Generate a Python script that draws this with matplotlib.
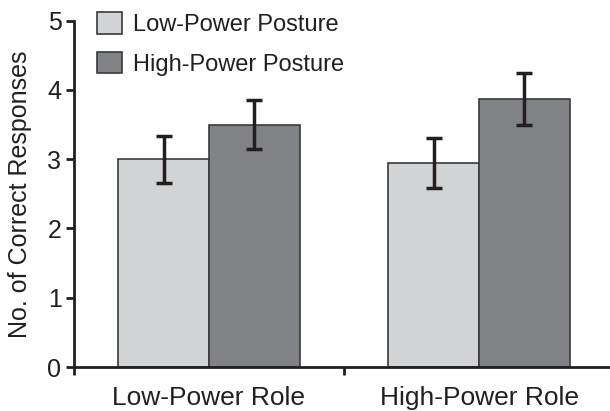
import numpy as np
import matplotlib
matplotlib.use("Agg")
import matplotlib.pyplot as plt

plt.rcParams['font.family'] = ['Liberation Sans', 'DejaVu Sans']

# data
roles = ["Low-Power Role", "High-Power Role"]
postures = ["Low-Power Posture", "High-Power Posture"]
low_posture = [3.00, 2.95]
high_posture = [3.50, 3.87]
low_err = [0.34, 0.36]
high_err = [0.35, 0.38]

light = "#d1d3d4"
dark = "#808285"
ink = "#231f20"

fig = plt.figure(figsize=(6.1, 4.11), dpi=100)
ax = fig.add_axes([74 / 610, 44 / 411, 540 / 610, 346.3 / 411])

x = np.arange(len(roles))
w = 0.337
ax.bar(x - w / 2, low_posture, w, color=light, edgecolor="#3a3a3a", linewidth=1.2,
       label=postures[0], zorder=2)
ax.bar(x + w / 2, high_posture, w, color=dark, edgecolor="#3a3a3a", linewidth=1.2,
       label=postures[1], zorder=2)
ax.errorbar(x - w / 2, low_posture, yerr=low_err, fmt="none", ecolor=ink,
            elinewidth=2.5, capsize=5.5, capthick=2.5, zorder=3)
ax.errorbar(x + w / 2, high_posture, yerr=high_err, fmt="none", ecolor=ink,
            elinewidth=2.5, capsize=5.5, capthick=2.5, zorder=3)

ax.set_xlim(-0.5, 1.5)
ax.set_ylim(0, 5)
ax.set_yticks(range(6))
ax.set_xticks([-0.5, 0.5, 1.5])
ax.set_xticklabels([])
ax.set_xticks(x, minor=True)
ax.set_xticklabels(roles, minor=True)
ax.tick_params(axis="x", which="minor", length=0, pad=14, labelsize=19, labelcolor=ink)
ax.tick_params(axis="x", which="major", length=6, width=2, color=ink)
ax.tick_params(axis="y", length=6, width=2, color=ink, labelsize=18, pad=3,
               labelcolor=ink)

for s in ["top", "right"]:
    ax.spines[s].set_visible(False)
for s in ["left", "bottom"]:
    ax.spines[s].set_linewidth(2)
    ax.spines[s].set_color(ink)

ax.set_ylabel("No. of Correct Responses", fontsize=18, labelpad=11, color=ink)

leg = fig.legend(loc="upper left", bbox_to_anchor=(90 / 610, 1 - 5 / 411),
                 frameon=False, fontsize=17, handlelength=1.06, handleheight=1.02,
                 handletextpad=0.47, labelspacing=0.68, borderaxespad=0, borderpad=0.3)
for t in leg.get_texts():
    t.set_color(ink)

fig.savefig("out.png", dpi=100)
